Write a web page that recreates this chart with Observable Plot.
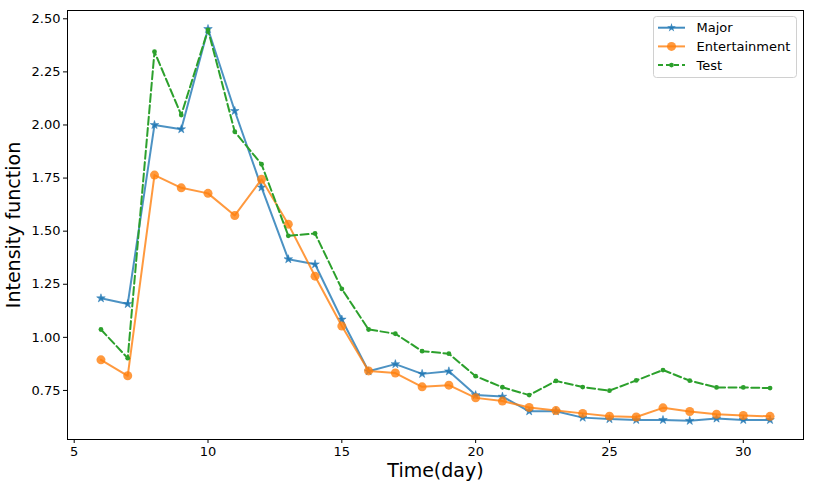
<!DOCTYPE html>
<html>
<head>
<meta charset="utf-8">
<script src="https://cdn.jsdelivr.net/npm/d3@7"></script>
<script src="https://cdn.jsdelivr.net/npm/@observablehq/plot@0.6"></script>
<style>
  body { margin: 0; background: #fff; font-family: "DejaVu Sans", sans-serif; }
  #wrap { position: relative; width: 831px; height: 490px; }
  #legend { position: absolute; left: 653px; top: 16px; }
</style>
</head>
<body>
<div id="wrap"><div id="chart"></div><div id="legend"></div></div>
<script>
const days = [6,7,8,9,10,11,12,13,14,15,16,17,18,19,20,21,22,23,24,25,26,27,28,29,30,31];
const major = [1.184,1.157,2.00,1.98,2.452,2.066,1.706,1.368,1.344,1.084,0.840,0.874,0.828,0.840,0.728,0.721,0.652,0.652,0.622,0.615,0.611,0.611,0.607,0.618,0.611,0.611];
const entertainment = [0.894,0.819,1.764,1.704,1.678,1.574,1.744,1.533,1.288,1.053,0.842,0.832,0.767,0.775,0.715,0.700,0.670,0.655,0.642,0.629,0.625,0.668,0.651,0.638,0.632,0.628];
const test = [1.037,0.902,2.345,2.047,2.448,1.968,1.815,1.478,1.489,1.228,1.037,1.017,0.935,0.923,0.817,0.765,0.728,0.795,0.766,0.749,0.797,0.846,0.796,0.764,0.764,0.761];
const seriesNames = ["Major","Entertainment","Test"];
const xTicks = [5,10,15,20,25,30];
const yTicks = [0.75,1.00,1.25,1.50,1.75,2.00,2.25,2.50];

const toRows = (vals) => days.map((d, i) => ({day: d, value: vals[i]}));
const rMajor = toRows(major), rEnt = toRows(entertainment), rTest = toRows(test);

const blue = "#1f77b4", orange = "#ff7f0e", green = "#2ca02c";

const chart = Plot.plot({
  width: 831,
  height: 490,
  marginLeft: 67,
  marginRight: 28,
  marginTop: 10,
  marginBottom: 51,
  style: {fontFamily: "DejaVu Sans, sans-serif", fontSize: "13px", color: "#000", background: "#fff"},
  x: {domain: [4.75, 32.25]},
  y: {domain: [0.519, 2.539]},
  marks: [
    Plot.axisX({ticks: xTicks, tickSize: 4, tickPadding: 3, label: null, fontSize: 13, stroke: "#000"}),
    Plot.axisY({ticks: yTicks, tickSize: 4, tickPadding: 3, tickFormat: d3.format(".2f"), label: null, fontSize: 13, stroke: "#000"}),
    Plot.line(rMajor, {x: "day", y: "value", stroke: blue, strokeWidth: 2, strokeOpacity: 0.8}),
    Plot.dot(rMajor, {x: "day", y: "value", symbol: "star", r: 2.7, fill: blue, fillOpacity: 0.85, stroke: blue, strokeOpacity: 0.8, strokeWidth: 0.6}),
    Plot.line(rEnt, {x: "day", y: "value", stroke: orange, strokeWidth: 2, strokeOpacity: 0.8}),
    Plot.dot(rEnt, {x: "day", y: "value", r: 4.5, fill: orange, fillOpacity: 0.8}),
    Plot.line(rTest, {x: "day", y: "value", stroke: green, strokeWidth: 2, strokeDasharray: "8,3.4"}),
    Plot.dot(rTest, {x: "day", y: "value", r: 2.4, fill: green}),
    Plot.frame({stroke: "#000", strokeWidth: 1}),
    Plot.text(["Intensity function"], {frameAnchor: "left", textAnchor: "middle", rotate: -90, dx: -54, fontSize: 19, fill: "#000"}),
    Plot.text(["Time(day)"], {frameAnchor: "bottom", textAnchor: "middle", dy: 37, fontSize: 19, fill: "#000"})
  ]
});
document.getElementById("chart").appendChild(chart);

// legend
const lg = d3.select("#legend").append("svg").attr("width", 145).attr("height", 63)
  .style("font-family", "DejaVu Sans, sans-serif").style("font-size", "13px");
lg.append("rect").attr("x", 0.5).attr("y", 0.5).attr("width", 143).attr("height", 61)
  .attr("rx", 3).attr("fill", "#fff").attr("fill-opacity", 0.8).attr("stroke", "#d0d0d0");
const styles = [
  {color: blue, op: 0.85, dash: null, sym: d3.symbolStar, size: 24},
  {color: orange, op: 0.8, dash: null, sym: d3.symbolCircle, size: 64},
  {color: green, op: 1, dash: "5,3", sym: d3.symbolCircle, size: 18}
];
seriesNames.forEach((name, i) => {
  const y = 11.7 + i * 18.7;
  const s = styles[i];
  lg.append("line").attr("x1", 5).attr("x2", 32).attr("y1", y).attr("y2", y)
    .attr("stroke", s.color).attr("stroke-opacity", s.op).attr("stroke-width", 2)
    .attr("stroke-dasharray", s.dash);
  lg.append("path").attr("d", d3.symbol(s.sym, s.size)()).attr("transform", `translate(18.5,${y})`)
    .attr("fill", s.color).attr("fill-opacity", s.op);
  lg.append("text").attr("x", 43.5).attr("y", y).attr("dy", "0.35em").attr("fill", "#000").text(name);
});
</script>
</body>
</html>
